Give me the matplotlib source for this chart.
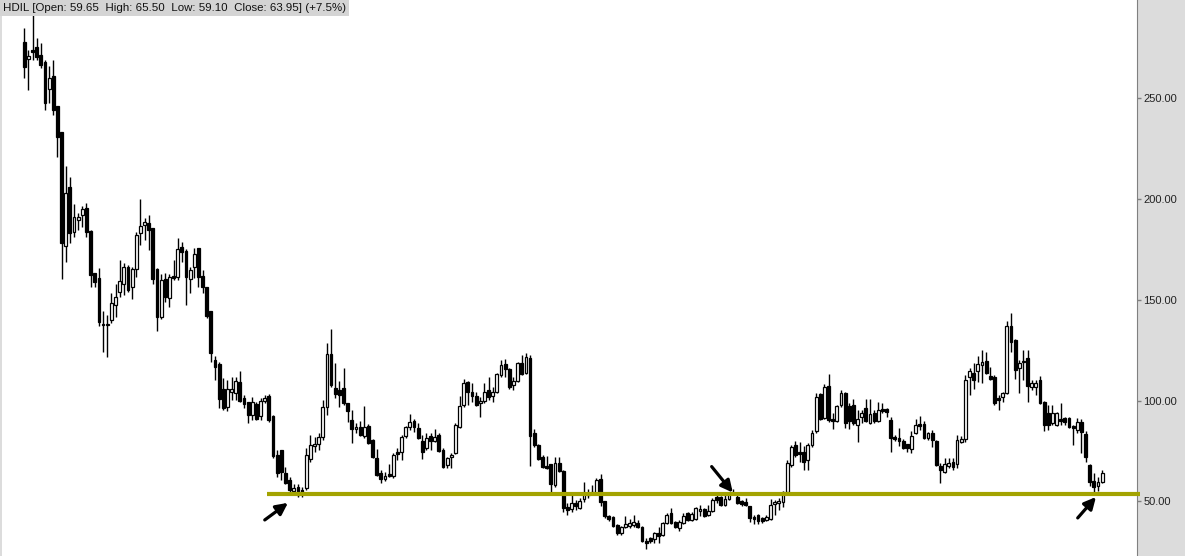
import numpy as np
import matplotlib
matplotlib.use("Agg")
import matplotlib.pyplot as plt

plt.rcParams["font.family"] = ["Liberation Sans", "DejaVu Sans"]

# weekly OHLC, oldest first
opens = [
    278, 269.7, 274, 275.7, 271.7, 268, 254.8, 261.3, 246.4, 233.5,
    176.9, 206.2, 183.8, 189.8, 192.3, 195.7, 184.3, 163.5, 161, 137.8,
    137.4, 140, 147.6, 154, 158, 166.4, 156.5, 165.4, 183.3, 187.3,
    188.3, 185.8, 165.4, 141.6, 160.5, 151, 162, 161.5, 176.4, 174.4,
    160.5, 166.4, 175.9, 162, 156.5, 144.6, 120.3, 118.3, 105.8, 96.8,
    104.3, 103.8, 109.3, 101.3, 99.3, 92.8, 98.3, 92.4, 99.8, 102.3,
    92.4, 73.1, 75.6, 64.2, 60.7, 55.2, 57.1, 55.6, 56.6, 71.1,
    77.6, 78.6, 82, 96.8, 123.3, 106.2, 105.2, 106.2, 98.8, 90.4,
    85.9, 86.9, 82.4, 87.4, 80.6, 71.6, 64, 61, 63.5, 62.6,
    74.5, 74.5, 82.4, 86.9, 89.9, 86.4, 80.1, 76.5, 82.4, 80.1,
    82.9, 75.5, 68, 72.1, 74, 86.9, 97.8, 109.2, 104.3, 102.3,
    98.8, 99.8, 105.3, 102.3, 104.3, 112.7, 118.2, 115.7, 107.7, 109.7,
    118.7, 113.7, 121.1, 83.9, 78.1, 72.1, 67.6, 68.6, 58.1, 69.1,
    65, 47.2, 46.2, 49.2, 46.7, 51.1, 53.2, 53.7, 54.2, 61.1,
    50.1, 42.7, 42.2, 38.2, 34.3, 37.2, 37.7, 38.2, 39.2, 37.2,
    30.3, 31.8, 31.3, 34.3, 33.3, 39.2, 44.2, 39.7, 36.7, 39.2,
    44.2, 40.7, 41.2, 45.2, 46.2, 43.2, 45.2, 52.1, 52.1, 48.2,
    51.1, 54.2, 52.1, 50.1, 49.7, 47.7, 42.2, 43.2, 41.7, 40.7,
    41.2, 48.7, 49.2, 49.7, 54.7, 68.1, 78.1, 74.5, 74.5, 70.5,
    78.1, 84.9, 103.3, 91.4, 107.2, 90.9, 89.9, 97.8, 103.8, 97.3,
    97.8, 87.9, 91.9, 96.3, 88.9, 93.8, 89.9, 95.8, 95.8, 90.4,
    82, 81.6, 79.9, 78.6, 76, 84, 88.4, 88.4, 81.6, 83.9,
    79.9, 67.6, 64.5, 67.6, 69.6, 68.6, 79.4, 80.9, 111.7, 113.7,
    114.7, 117.7, 119.7, 112.2, 111.7, 101.3, 101.8, 103.8, 137.1, 130.1,
    116.2, 119.2, 121.2, 106.7, 106.7, 110.2, 99.3, 93.8, 88.9, 87.9,
    90.9, 91.4, 91.4, 87.4, 85.4, 89.4, 83.4, 68.1, 60.1, 57.6,
    59.65,
]
highs = [
    285, 274, 291.5, 280, 277.6, 269, 266.2, 269, 246.4, 233.5,
    216.6, 211, 197.7, 193.2, 196.7, 198.2, 184.8, 163.5, 166, 144.6,
    142.6, 153.4, 158, 169.8, 168.4, 167.4, 166.4, 183.8, 200.2, 190.8,
    192.3, 185.8, 165.9, 162.9, 163.5, 163, 169.8, 180.8, 178.9, 175.4,
    166.4, 175.9, 175.9, 165, 156.5, 144.6, 122.3, 119.3, 111.3, 110.3,
    111.8, 111.8, 114.8, 102.8, 99.3, 101.8, 99.3, 101.3, 102.8, 103.3,
    92.9, 75.6, 75.6, 67, 62, 58.4, 58.4, 57, 76.6, 83,
    82, 83.9, 100.3, 128.7, 135.5, 118.8, 109.8, 116.2, 98.8, 95.4,
    88.9, 89.9, 97.3, 88.4, 81.1, 76, 65.5, 64.4, 68.5, 74,
    76.5, 83, 87.4, 93.3, 91, 89, 83, 83.9, 83.9, 85.9,
    83.9, 76.5, 72.1, 74, 88.9, 102.3, 110.7, 109.7, 108.7, 104.3,
    101.8, 108.7, 111.8, 106.8, 113.7, 120.3, 120.7, 116.2, 111.8, 119.3,
    122.6, 123.6, 122.6, 86, 78.6, 73.1, 72.6, 68.6, 72.1, 72.1,
    65.5, 49.2, 53.7, 50.6, 51.6, 59.6, 56.1, 58.1, 61.5, 63.5,
    50.1, 43.2, 42.7, 38.7, 37.7, 42.7, 41.2, 43.2, 40.7, 37.7,
    31.8, 32.3, 34.8, 37.2, 39.7, 44.2, 46.7, 40.2, 40.7, 44.2,
    44.7, 44.7, 47.2, 48.2, 46.7, 48.2, 51.6, 53.2, 52.6, 53.2,
    54.7, 56.1, 54.2, 50.6, 51.6, 47.7, 43.2, 43.7, 42.2, 43.2,
    51.1, 50.6, 51.6, 55.2, 70.6, 78.1, 80.1, 79.6, 77.6, 79.1,
    85.4, 103.8, 103.8, 108.3, 113.2, 93.8, 97.8, 105.3, 104.3, 98.8,
    100.8, 95.4, 95.4, 100.8, 100.8, 95.4, 99.3, 98.8, 96.3, 91.9,
    83, 86.4, 80.9, 78.6, 84.9, 90.9, 92.4, 89.9, 84.4, 85.4,
    80.4, 69.1, 71.6, 71.6, 71.6, 82.9, 82.4, 112.7, 116.2, 118.7,
    122.2, 125.1, 124.1, 116.7, 112.7, 102.8, 104.3, 139.6, 143.6, 130.7,
    120.2, 125.1, 125.1, 110.2, 110.2, 112.2, 99.8, 97.8, 97.8, 94.4,
    98.8, 91.9, 91.9, 87.9, 91.4, 90.9, 84.9, 68.6, 64, 62,
    65.5,
]
lows = [
    260, 254, 269, 269, 265, 244.4, 247.9, 241.9, 221, 160.5,
    169, 178.4, 181.3, 184.8, 186.3, 181.3, 156.5, 156.5, 137, 124.3,
    121.4, 138.6, 141.6, 151.6, 152.6, 154, 150.6, 161.5, 177.4, 179.8,
    175, 158, 134.6, 140.5, 149, 146.6, 160, 160, 169, 147.6,
    153.5, 161, 156.5, 153.5, 141, 119.3, 110, 96.3, 95.4, 94.9,
    100.3, 100.3, 99.3, 96.3, 88.9, 90.4, 90.4, 90.4, 98.8, 89.4,
    71.6, 62, 60.7, 58.7, 54.7, 54.2, 52.2, 52, 55.6, 69.6,
    74.5, 75.5, 80.5, 93, 106.7, 101.3, 96.8, 97.8, 89.4, 79,
    84, 82.4, 81.6, 78.6, 71.6, 62.5, 59, 59.9, 62, 61.5,
    70.5, 70.5, 81.6, 85.4, 84.4, 80.9, 71, 75.5, 75.5, 79.6,
    74.5, 66.6, 66.6, 66.6, 73.5, 86.4, 96.8, 97.8, 99.3, 97.3,
    91.9, 98.8, 100.3, 99.3, 103.8, 111.8, 111.8, 105.8, 105.3, 109.2,
    112.7, 113.2, 67.5, 77, 70.6, 66.6, 66.1, 54.2, 57.1, 64.5,
    44.7, 43.2, 44.7, 45.7, 46.2, 49.7, 51.6, 53.2, 53.7, 47.7,
    41.7, 40.2, 37.2, 33.3, 33.3, 36.7, 36.7, 37.2, 36.7, 29.8,
    26.3, 29.3, 29.3, 29.3, 32.8, 38.7, 38.7, 36.7, 35.3, 38.7,
    40.2, 40.2, 40.7, 42.7, 42.2, 42.7, 44.7, 49.2, 47.7, 47.7,
    50.6, 53.2, 48.7, 47.7, 47.7, 39.7, 38.7, 38.7, 39.2, 40.2,
    40.7, 43.2, 45.7, 47.2, 54.7, 67.1, 72.1, 69.6, 65.5, 65.5,
    77.1, 83.9, 90.4, 90.9, 89.4, 85.9, 89.4, 96.8, 86.4, 85.9,
    87.9, 79.6, 88.9, 89.4, 88.4, 88.9, 89.4, 93.8, 91.9, 74.5,
    79.9, 77.6, 75.9, 74.5, 74, 83.4, 85.4, 80.9, 80.6, 76.8,
    67.6, 59.1, 64, 66.6, 65.5, 66.6, 78.9, 79.4, 102.8, 105.8,
    109.2, 108.7, 113.2, 110.2, 97.8, 95.4, 99.3, 103.3, 124.1, 110.7,
    103.8, 110.2, 99.3, 105.3, 102.8, 98.3, 84.9, 85.4, 87.9, 87.4,
    87.9, 87.9, 86.4, 77.9, 83.9, 74, 69.6, 57.6, 54.7, 55.2,
    59.1,
]
closes = [
    265.6, 271.2, 273, 270.7, 266.7, 247.9, 260.3, 244.4, 231, 178.4,
    203.2, 183.3, 191.3, 191.3, 195.2, 183.8, 162.5, 159, 139, 137.4,
    137.8, 148.6, 151.6, 159.6, 166.4, 155, 165.4, 182.3, 186.8, 188.8,
    184.8, 160.5, 141.6, 160, 151.6, 161.5, 161, 175.4, 173.9, 161.5,
    165, 172.9, 161.5, 156.5, 142, 123.8, 116.8, 100.8, 96.3, 105.8,
    105.8, 109.8, 99.8, 98.3, 92.8, 99.3, 90.9, 99.8, 101.3, 90.4,
    72.6, 64.2, 64.7, 59.2, 55.7, 56.6, 53.2, 53.7, 73.1, 78.1,
    78.6, 82, 96.8, 123.3, 107.7, 103.3, 102.8, 98.8, 94.9, 85.9,
    86.9, 82.9, 87, 79.1, 72.1, 63, 61, 62.6, 62.6, 73,
    73.5, 82, 86.9, 89.4, 86.9, 81.4, 74.5, 81.6, 80.1, 82,
    75, 67.1, 71.6, 73.1, 87.9, 97.3, 108.7, 104.3, 102.3, 97.8,
    99.8, 104.3, 101.8, 104.3, 113.2, 117.7, 115.7, 106.7, 109.7, 118.7,
    113.2, 121.6, 82.4, 78.1, 71.1, 67.1, 66.6, 58.6, 69.1, 65,
    46.7, 45.6, 49.2, 47.7, 50.1, 53.7, 54.2, 54.7, 60.7, 49.7,
    42.7, 41.2, 37.7, 34.3, 37.2, 38.7, 39.2, 39.7, 37.2, 30.3,
    29.3, 30.3, 34.3, 32.8, 39.2, 43.2, 39.2, 37.2, 39.7, 42.7,
    40.7, 43.7, 46.7, 46.2, 42.7, 45.2, 50.6, 50.6, 48.2, 51.1,
    54.2, 53.7, 49.2, 48.7, 48.2, 41.7, 41.2, 40.2, 40.2, 42.2,
    48.2, 49.7, 50.1, 54.7, 69.1, 77, 73.1, 73.5, 69.6, 78.1,
    84, 101.8, 90.9, 106.7, 90.4, 89.9, 97.3, 103.8, 88.9, 89.9,
    88.9, 90.9, 93.8, 89.9, 93.3, 89.9, 95.4, 94.9, 94.4, 81.6,
    81.1, 79.9, 76.5, 76.5, 82.4, 87.9, 87.4, 81.6, 83.9, 80.6,
    68.1, 65.5, 68.6, 69.1, 67.1, 80.4, 80.9, 110.2, 114.7, 110.2,
    118.2, 119.2, 113.7, 110.7, 98.8, 100.3, 103.8, 137.1, 129.2, 115.2,
    118.7, 119.7, 107.2, 108.7, 108.7, 98.8, 87.9, 87.9, 93.8, 93.8,
    89.9, 89.4, 86.9, 86.4, 89.4, 84.4, 72.1, 59.6, 57.1, 59.6,
    63.95,
]

price_ticks = [50, 100, 150, 200, 250]
support_level = 53.4
title = "HDIL [Open: 59.65  High: 65.50  Low: 59.10  Close: 63.95] (+7.5%)"
# arrows pointing at the three touches of the support line: (tail, head)
arrows = [((58.0, 40.7), (63.6, 49.2)),
          ((165.8, 67.2), (170.9, 54.3)),
          ((254.1, 41.7), (258.5, 52.1))]

o = np.array(opens)
h = np.array(highs)
l = np.array(lows)
c = np.array(closes)
x = np.arange(len(o))
up = c >= o

fig = plt.figure(figsize=(11.85, 5.56), dpi=100, facecolor="#dcdcdc")
ax = fig.add_axes([2 / 1185, 0, 1135 / 1185, 1])
ax.set_facecolor("white")

ax.vlines(x, l, h, color="black", lw=1, zorder=2)
body_lo = np.minimum(o, c)
body_h = np.maximum(np.abs(c - o), 0.4)
ax.bar(x, body_h, bottom=body_lo, width=0.68,
       color=np.where(up, "white", "black"), edgecolor="black", lw=0.9, zorder=3)

ax.plot([58.5, 269.2], [support_level, support_level], color="#a3a300",
        lw=3, solid_capstyle="butt", zorder=4, clip_on=False)

for tail, head in arrows:
    ax.annotate("", xy=head, xytext=tail,
                arrowprops=dict(arrowstyle="-|>,head_length=0.7,head_width=0.35",
                                lw=2.3, color="black", shrinkA=0, shrinkB=0),
                zorder=5)

ax.set_xlim(-5.38, 268.4)
ax.set_ylim(22.8, 298.9)
for side in ("left", "top", "bottom"):
    ax.spines[side].set_visible(False)
ax.spines["right"].set_color("#808080")
ax.set_xticks([])
ax.yaxis.tick_right()
ax.set_yticks(price_ticks)
ax.set_yticklabels([f"{v:.2f}" for v in price_ticks])
ax.tick_params(axis="y", length=3, width=1, color="#808080",
               labelsize=8, labelcolor="#222222", pad=1.5)

fig.text(3 / 1185, 1 - 8 / 556, title, fontsize=8.25, va="center", ha="left",
         color="#111111",
         bbox=dict(boxstyle="square,pad=0.25", fc="#d4d4d4", ec="none"))

fig.savefig("out.png", dpi=100, facecolor=fig.get_facecolor())
plt.close(fig)
